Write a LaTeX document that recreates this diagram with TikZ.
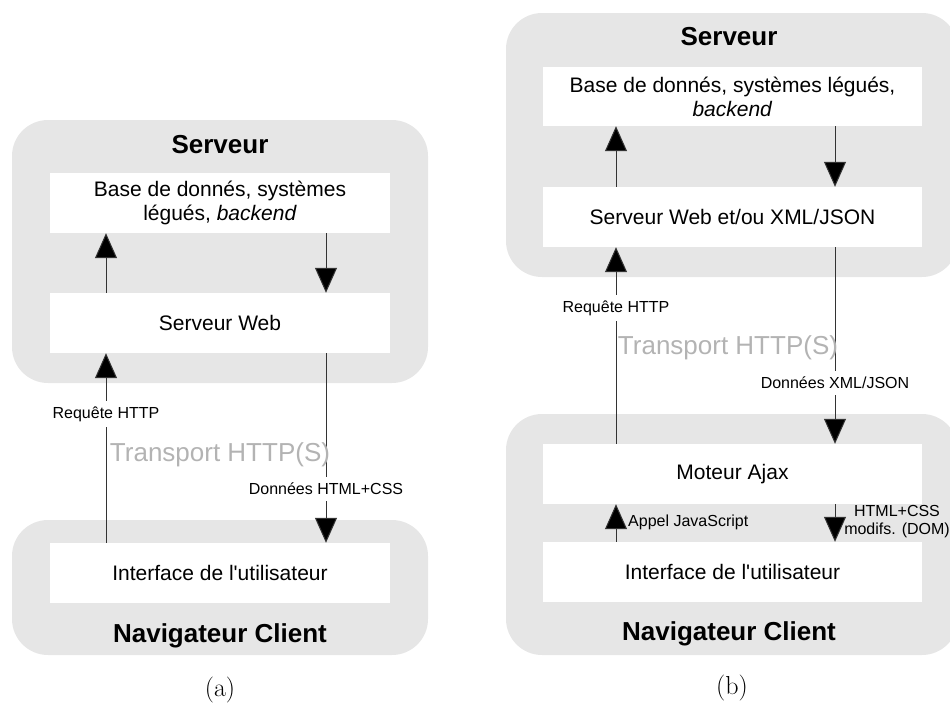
\documentclass[tikz,border=0pt]{standalone}
\usepackage{fontspec}
\newfontfamily\arialf{Liberation Sans}
\usetikzlibrary{arrows.meta}
\definecolor{panelfill}{HTML}{E6E6E6}
\definecolor{transp}{HTML}{B3B3B3}
\definecolor{linec}{HTML}{333333}
\tikzset{
  panelbox/.style={fill=panelfill, rounded corners=36pt, inner sep=0pt},
  whitebox/.style={fill=white, inner sep=0pt, minimum height=60pt, align=center,
    font=\arialf\fontsize{21}{24}\selectfont},
  titletxt/.style={font=\arialf\bfseries\fontsize{26}{30}\selectfont},
  lbl/.style={font=\arialf\fontsize{16}{18}\selectfont, fill=white, inner xsep=3pt, inner ysep=6pt},
  sidelbl/.style={font=\arialf\fontsize{16}{18}\selectfont, inner sep=0pt, align=center},
  arr/.style={draw=linec, line width=1pt, -{Triangle[width=22pt,length=25pt,fill=black]}},
  transport/.style={text=transp, font=\arialf\fontsize{26}{30}\selectfont},
  captxt/.style={font=\fontsize{26}{30}\selectfont}
}
\begin{document}
\begin{tikzpicture}[x=1pt,y=-1pt]
\useasboundingbox (0,0) rectangle (950,704);
\clip (0,0) rectangle (950,704);

% ---------- (a) ----------
\node[panelbox, minimum width=416pt, minimum height=263pt] (srvA) at (220,251.5) {};
\node[panelbox, minimum width=416pt, minimum height=135pt] (cliA) at (220,587.5) {};
\node[titletxt] (tsrvA) at (220,145) {Serveur};
\node[titletxt] (tcliA) at (220,636) {Navigateur Client};
\node[whitebox, minimum width=340pt] (baseA) at (220,203) {Base de donnés, systèmes\\légués, \textit{backend}};
\node[whitebox, minimum width=340pt] (swebA) at (220,323) {Serveur Web};
\node[whitebox, minimum width=340pt] (uiA) at (220,573) {Interface de l'utilisateur};

\coordinate (aL) at (106,0);
\coordinate (aR) at (326,0);
\draw[arr] (swebA.north -| aL) -- (baseA.south -| aL);
\draw[arr] (baseA.south -| aR) -- (swebA.north -| aR);
\draw[arr] (uiA.north -| aL) -- (swebA.south -| aL);
\draw[arr] (swebA.south -| aR) -- (uiA.north -| aR);
\node[lbl] (reqA) at (106,414) {Requête HTTP};
\node[lbl] (donA) at (326,489) {Données HTML+CSS};
\node[transport] (trA) at (220,455) {Transport HTTP(S)};
\node[captxt] (capA) at (220,690) {(a)};

% ---------- (b) ----------
\node[panelbox, minimum width=452pt, minimum height=264pt] (srvB) at (732,145) {};
\node[panelbox, minimum width=452pt, minimum height=241pt] (cliB) at (732,534.5) {};
\node[titletxt] (tsrvB) at (729,37) {Serveur};
\node[titletxt] (tcliB) at (729,634) {Navigateur Client};
\node[whitebox, minimum width=379pt, minimum height=59pt] (baseB) at (732.5,96.5) {Base de donnés, systèmes légués,\\\textit{backend}};
\node[whitebox, minimum width=379pt] (swebB) at (732.5,217) {Serveur Web et/ou XML/JSON};
\node[whitebox, minimum width=379pt] (ajaxB) at (732.5,474) {Moteur Ajax};
\node[whitebox, minimum width=379pt] (uiB) at (732.5,572) {Interface de l'utilisateur};

\coordinate (bL) at (616,0);
\coordinate (bR) at (835,0);
\draw[arr] (swebB.north -| bL) -- (baseB.south -| bL);
\draw[arr] (baseB.south -| bR) -- (swebB.north -| bR);
\draw[arr] (ajaxB.north -| bL) -- (swebB.south -| bL);
\draw[arr] (swebB.south -| bR) -- (ajaxB.north -| bR);
\draw[arr] (uiB.north -| bL) -- (ajaxB.south -| bL);
\draw[arr] (ajaxB.south -| bR) -- (uiB.north -| bR);
\node[lbl] (reqB) at (616,308) {Requête HTTP};
\node[lbl] (donB) at (835,383) {Données XML/JSON};
\node[transport] (trB) at (728,348) {Transport HTTP(S)};
\node[sidelbl, anchor=west] (appB) at (628,522) {Appel JavaScript};
\node[sidelbl] (domB) at (897,522) {HTML+CSS\\modifs. (DOM)};
\node[captxt] (capB) at (732,688) {(b)};
\end{tikzpicture}
\end{document}
